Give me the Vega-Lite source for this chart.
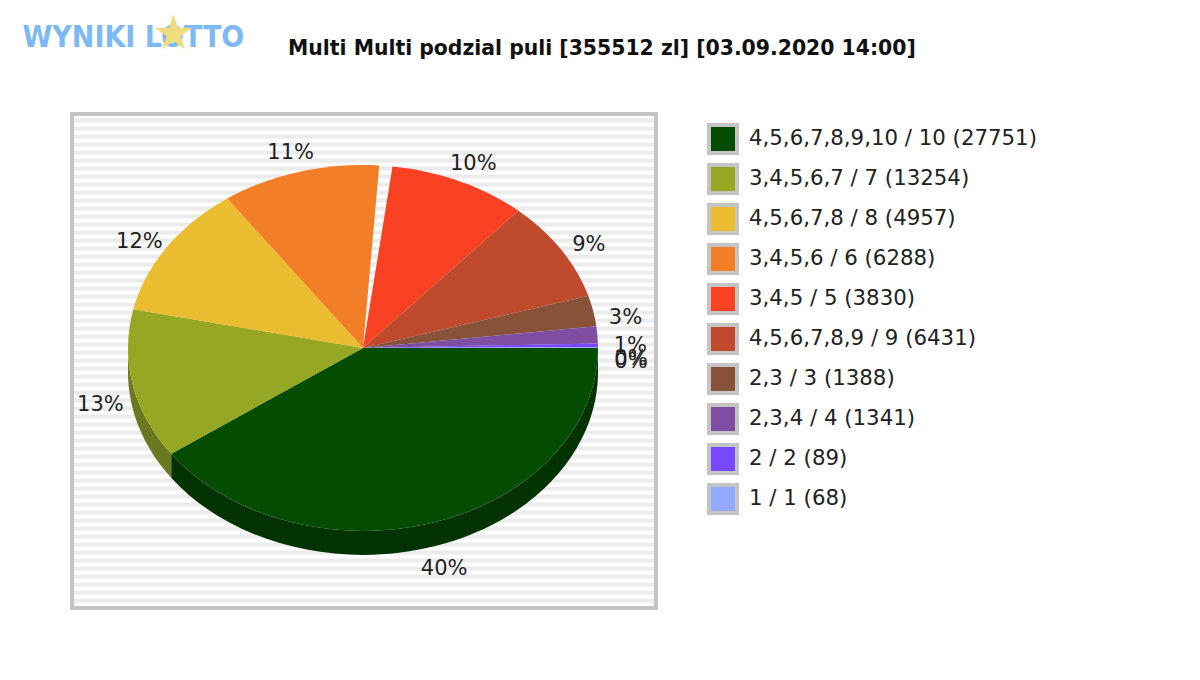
{
  "$schema": "https://vega.github.io/schema/vega-lite/v6.json",
  "width": 584,
  "height": 494,
  "autosize": "none",
  "padding": {"left": 72, "top": 114, "right": 544, "bottom": 72},
  "background": "white",
  "title": {
    "text": "Multi Multi podzial puli [355512 zl] [03.09.2020 14:00]",
    "anchor": "start",
    "frame": "group",
    "dx": 216,
    "offset": -49,
    "font": "DejaVu Sans",
    "fontSize": 20.4,
    "fontWeight": "bold",
    "color": "#111111"
  },
  "data": {
    "values": [
      {"order": 1, "slice": "4,5,6,7,8,9,10 / 10 (27751)", "share": 40.2, "label": "40%"},
      {"order": 2, "slice": "3,4,5,6,7 / 7 (13254)", "share": 13.2, "label": "13%"},
      {"order": 3, "slice": "4,5,6,7,8 / 8 (4957)", "share": 11.8, "label": "12%"},
      {"order": 4, "slice": "3,4,5,6 / 6 (6288)", "share": 10.9, "label": "11%"},
      {"order": 5, "slice": "gap", "share": 0.9, "label": ""},
      {"order": 6, "slice": "3,4,5 / 5 (3830)", "share": 9.5, "label": "10%"},
      {"order": 7, "slice": "4,5,6,7,8,9 / 9 (6431)", "share": 8.9, "label": "9%"},
      {"order": 8, "slice": "2,3 / 3 (1388)", "share": 2.7, "label": "3%"},
      {"order": 9, "slice": "2,3,4 / 4 (1341)", "share": 1.5, "label": "1%"},
      {"order": 10, "slice": "2 / 2 (89)", "share": 0.33, "label": "0%"},
      {"order": 11, "slice": "1 / 1 (68)", "share": 0.07, "label": "0%"}
    ]
  },
  "transform": [
    {"stack": "share", "groupby": [], "sort": [{"field": "order"}], "as": ["v0", "v1"]}
  ],
  "layer": [
    {
      "data": {"values": [{"frame": "panel"}]},
      "mark": {"type": "rect", "fillOpacity": 0, "stroke": "#c4c4c4", "strokeWidth": 4},
      "encoding": {
        "x": {
          "datum": 0,
          "type": "quantitative",
          "scale": {"domain": [0, 584], "nice": false},
          "axis": {
            "orient": "top",
            "domain": false,
            "ticks": false,
            "labels": false,
            "grid": false,
            "title": "WYNIKI LOTTO",
            "titleX": -50,
            "titleY": -68,
            "titleAlign": "left",
            "titleBaseline": "alphabetic",
            "titleFont": "DejaVu Sans Condensed",
            "titleFontSize": 30,
            "titleFontWeight": "bold",
            "titleColor": "#7db9f5"
          }
        },
        "x2": {"datum": 584},
        "y": {
          "datum": 0,
          "type": "quantitative",
          "scale": {"domain": [0, 494], "range": [0, 494], "nice": false},
          "axis": {
            "values": [6, 14, 22, 30, 38, 46, 54, 62, 70, 78, 86, 94, 102, 110, 118, 126, 134, 142, 150, 158, 166, 174, 182, 190, 198, 206, 214, 222, 230, 238, 246, 254, 262, 270, 278, 286, 294, 302, 310, 318, 326, 334, 342, 350, 358, 366, 374, 382, 390, 398, 406, 414, 422, 430, 438, 446, 454, 462, 470, 478, 486],
            "domain": false,
            "ticks": false,
            "labels": false,
            "grid": true,
            "gridColor": "#ebebeb",
            "gridWidth": 4,
            "title": "★",
            "titleX": 101,
            "titleY": -66,
            "titleAngle": 0,
            "titleAlign": "center",
            "titleBaseline": "alphabetic",
            "titleFont": "DejaVu Sans",
            "titleFontSize": 48,
            "titleFontWeight": "normal",
            "titleColor": "#f0dc7c"
          }
        },
        "y2": {"datum": 494}
      }
    },
    {
      "transform": [{"filter": "datum.v0 < 50"}],
      "mark": {
        "type": "point",
        "filled": true,
        "opacity": 1,
        "size": 4,
        "x": {"expr": "width/2-1"},
        "y": {"expr": "height/2-13"},
        "shape": {"expr": "'M' + round(2350*cos(datum.v0*PI/50))/10 + ',' + round(1830*sin(datum.v0*PI/50))/10 + 'A235,183,0,0,1,' + round(2350*cos(min(datum.v1,50)*PI/50))/10 + ',' + round(1830*sin(min(datum.v1,50)*PI/50))/10 + 'L' + round(2350*cos(min(datum.v1,50)*PI/50))/10 + ',' + (round(1830*sin(min(datum.v1,50)*PI/50))/10+24) + 'A235,183,0,0,0,' + round(2350*cos(datum.v0*PI/50))/10 + ',' + (round(1830*sin(datum.v0*PI/50))/10+24) + 'Z'"}
      },
      "encoding": {
        "color": {
          "field": "slice",
          "type": "nominal",
          "legend": null,
          "scale": {
            "domain": ["4,5,6,7,8,9,10 / 10 (27751)", "3,4,5,6,7 / 7 (13254)"],
            "range": ["#023300", "#6a7820"]
          }
        }
      }
    },
    {
      "transform": [{"filter": "datum.slice !== 'gap'"}],
      "mark": {
        "type": "point",
        "filled": true,
        "opacity": 1,
        "size": 4,
        "x": {"expr": "width/2-1"},
        "y": {"expr": "height/2-13"},
        "shape": {"expr": "'M0,0L' + round(2350*cos(datum.v0*PI/50))/10 + ',' + round(1830*sin(datum.v0*PI/50))/10 + 'A235,183,0,0,1,' + round(2350*cos(datum.v1*PI/50))/10 + ',' + round(1830*sin(datum.v1*PI/50))/10 + 'Z'"}
      },
      "encoding": {
        "color": {
          "field": "slice",
          "type": "nominal",
          "sort": null,
          "scale": {
            "domain": ["4,5,6,7,8,9,10 / 10 (27751)", "3,4,5,6,7 / 7 (13254)", "4,5,6,7,8 / 8 (4957)", "3,4,5,6 / 6 (6288)", "3,4,5 / 5 (3830)", "4,5,6,7,8,9 / 9 (6431)", "2,3 / 3 (1388)", "2,3,4 / 4 (1341)", "2 / 2 (89)", "1 / 1 (68)"],
            "range": ["#044c00", "#96a823", "#eabd30", "#f27f27", "#f84223", "#bf4a2e", "#875238", "#7f4ea3", "#7748ff", "#93a9ff"]
          },
          "legend": {
            "orient": "none",
            "legendX": 635,
            "legendY": 9,
            "title": null,
            "symbolType": "square",
            "symbolSize": 784,
            "symbolStrokeColor": "#c4c4c4",
            "symbolStrokeWidth": 4,
            "symbolOpacity": 1,
            "labelFont": "DejaVu Sans",
            "labelFontSize": 21.3,
            "labelColor": "#222222",
            "labelLimit": 400,
            "labelOffset": 10,
            "rowPadding": -4
          }
        }
      }
    },
    {
      "transform": [{"filter": "datum.slice !== 'gap'"}],
      "mark": {
        "type": "text",
        "font": "DejaVu Sans",
        "fontSize": 21,
        "color": "#222222",
        "align": "center",
        "baseline": "middle",
        "x": {"expr": "width/2-1+268*cos((datum.v0+datum.v1)*PI/100)"},
        "y": {"expr": "height/2+1+217*sin((datum.v0+datum.v1)*PI/100)"}
      },
      "encoding": {"text": {"field": "label", "type": "nominal"}}
    }
  ],
  "resolve": {"scale": {"color": "independent"}},
  "config": {
    "view": {"stroke": null}
  }
}
